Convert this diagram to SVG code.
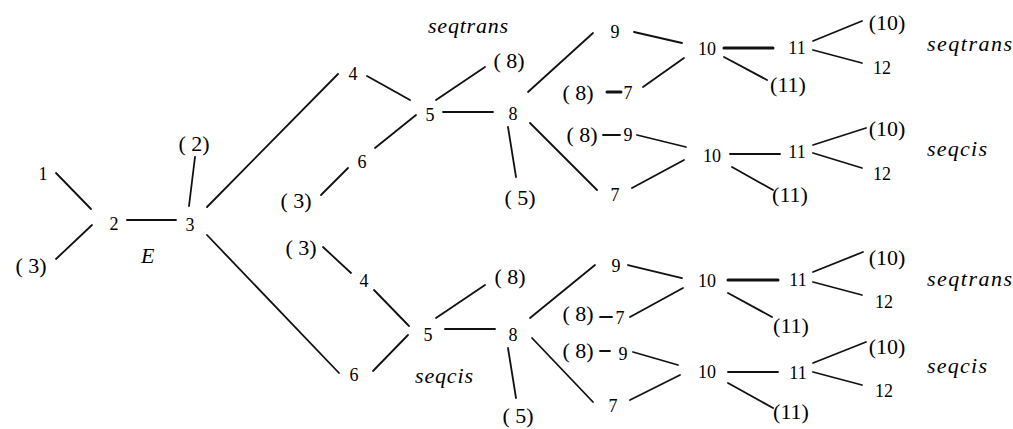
<svg xmlns="http://www.w3.org/2000/svg" width="1013" height="429" viewBox="0 0 1013 429">
<style>
.n{font-family:"Liberation Serif","Times New Roman",serif;font-size:18px;fill:#000;text-anchor:middle}
.p{font-family:"Liberation Serif","Times New Roman",serif;font-size:22px;fill:#000;text-anchor:middle}
.i{font-family:"Liberation Serif","Times New Roman",serif;font-size:22px;font-style:italic;fill:#000}
.c line{stroke:#111;stroke-width:1.8;stroke-linecap:round}
.c line.t{stroke-width:3}
</style>
<rect width="1013" height="429" fill="#fff"/>
<g id="connectors" class="c">
<line x1="56" y1="173" x2="91" y2="209"/>
<line x1="56" y1="259" x2="92" y2="225"/>
<line x1="127" y1="220" x2="176" y2="220"/>
<line x1="195" y1="157" x2="189" y2="206"/>
<line x1="207" y1="207" x2="338" y2="74"/>
<line x1="207" y1="235" x2="339" y2="373"/>
<line x1="367" y1="76" x2="410" y2="100"/>
<line x1="436" y1="100" x2="485" y2="67"/>
<line x1="443" y1="112" x2="493" y2="112"/>
<line x1="416" y1="115" x2="375" y2="148"/>
<line x1="348" y1="168" x2="321" y2="195"/>
<line x1="508" y1="127" x2="516" y2="177"/>
<line x1="528" y1="92" x2="593" y2="33"/>
<line x1="530" y1="123" x2="597" y2="190"/>
<line x1="634" y1="32" x2="682" y2="43"/>
<line class="t" x1="724" y1="48" x2="773" y2="48"/>
<line x1="724" y1="57" x2="767" y2="80"/>
<line x1="643" y1="87" x2="684" y2="58"/>
<line class="t" x1="607" y1="92" x2="621" y2="92"/>
<line x1="603" y1="135" x2="620" y2="135"/>
<line x1="637" y1="135" x2="686" y2="147"/>
<line x1="632" y1="188" x2="684" y2="160"/>
<line x1="730" y1="154" x2="780" y2="154"/>
<line x1="732" y1="167" x2="773" y2="190"/>
<line x1="813" y1="41" x2="862" y2="21"/>
<line x1="813" y1="50" x2="862" y2="63"/>
<line x1="813" y1="145" x2="866" y2="128"/>
<line x1="813" y1="153" x2="862" y2="168"/>
<line x1="323" y1="247" x2="351" y2="273"/>
<line x1="374" y1="290" x2="409" y2="326"/>
<line x1="408" y1="335" x2="373" y2="371"/>
<line x1="436" y1="318" x2="485" y2="285"/>
<line x1="445" y1="329" x2="495" y2="329"/>
<line x1="508" y1="348" x2="516" y2="398"/>
<line x1="530" y1="318" x2="595" y2="265"/>
<line x1="532" y1="338" x2="593" y2="402"/>
<line x1="628" y1="265" x2="682" y2="278"/>
<line class="t" x1="728" y1="280" x2="778" y2="280"/>
<line x1="728" y1="293" x2="772" y2="317"/>
<line x1="600" y1="317" x2="612" y2="317"/>
<line x1="630" y1="317" x2="683" y2="288"/>
<line x1="600" y1="351" x2="610" y2="351"/>
<line x1="633" y1="352" x2="678" y2="365"/>
<line x1="630" y1="400" x2="680" y2="375"/>
<line x1="728" y1="372" x2="778" y2="372"/>
<line x1="728" y1="383" x2="773" y2="408"/>
<line x1="813" y1="272" x2="863" y2="252"/>
<line x1="813" y1="282" x2="862" y2="295"/>
<line x1="813" y1="363" x2="866" y2="342"/>
<line x1="813" y1="372" x2="862" y2="385"/>
</g>
<g id="n1"><text class="n" x="43" y="180">1</text></g>
<g id="n2"><text class="n" x="114" y="230">2</text></g>
<g id="n3"><text class="n" x="190" y="231">3</text></g>
<g id="n2p"><text class="p" x="194" y="151" xml:space="preserve">( 2)</text></g>
<g id="n3p"><text class="p" x="31" y="273" xml:space="preserve">( 3)</text></g>
<g id="lblE"><text class="i" x="141" y="263">E</text></g>

<g id="u4"><text class="n" x="353" y="80">4</text></g>
<g id="u5"><text class="n" x="430" y="121">5</text></g>
<g id="u6"><text class="n" x="362" y="168">6</text></g>
<g id="u3p"><text class="p" x="296" y="208" xml:space="preserve">( 3)</text></g>
<g id="u8p"><text class="p" x="509" y="68" xml:space="preserve">( 8)</text></g>
<g id="u8"><text class="n" x="513" y="120">8</text></g>
<g id="u5p"><text class="p" x="520" y="205" xml:space="preserve">( 5)</text></g>
<g id="lblSeqtrans1"><text class="i" x="428" y="33" font-size="21" textLength="80" lengthAdjust="spacing">seqtrans</text></g>

<g id="ua9"><text class="n" x="615" y="38">9</text></g>
<g id="ua10"><text class="n" x="707" y="55">10</text></g>
<g id="ua8p"><text class="p" x="578" y="100" xml:space="preserve">( 8)</text></g>
<g id="ua7"><text class="n" x="628" y="99">7</text></g>
<g id="ua11"><text class="n" x="797" y="54">11</text></g>
<g id="ua10p"><text class="p" x="887" y="30">(10)</text></g>
<g id="ua12"><text class="n" x="882" y="74">12</text></g>
<g id="ua11p"><text class="p" x="788" y="92">(11)</text></g>
<g id="lblSeqtrans2"><text class="i" x="927" y="51" textLength="85" lengthAdjust="spacing">seqtrans</text></g>

<g id="ub8p"><text class="p" x="582" y="142" xml:space="preserve">( 8)</text></g>
<g id="ub9"><text class="n" x="628" y="141">9</text></g>
<g id="ub10"><text class="n" x="712" y="162">10</text></g>
<g id="ub7"><text class="n" x="615" y="201">7</text></g>
<g id="ub11"><text class="n" x="797" y="158">11</text></g>
<g id="ub10p"><text class="p" x="887" y="136">(10)</text></g>
<g id="ub12"><text class="n" x="882" y="180">12</text></g>
<g id="ub11p"><text class="p" x="790" y="202">(11)</text></g>
<g id="lblSeqcis1"><text class="i" x="927" y="156" textLength="60" lengthAdjust="spacing">seqcis</text></g>

<g id="l3p"><text class="p" x="301" y="255" xml:space="preserve">( 3)</text></g>
<g id="l4"><text class="n" x="364" y="287">4</text></g>
<g id="l5"><text class="n" x="428" y="341">5</text></g>
<g id="l6"><text class="n" x="354" y="381">6</text></g>
<g id="l8p"><text class="p" x="510" y="284" xml:space="preserve">( 8)</text></g>
<g id="l8"><text class="n" x="513" y="341">8</text></g>
<g id="l5p"><text class="p" x="518" y="423" xml:space="preserve">( 5)</text></g>
<g id="lblSeqcis2"><text class="i" x="415" y="383" textLength="58" lengthAdjust="spacing">seqcis</text></g>

<g id="la9"><text class="n" x="616" y="272">9</text></g>
<g id="la10"><text class="n" x="707" y="287">10</text></g>
<g id="la8p"><text class="p" x="578" y="321" xml:space="preserve">( 8)</text></g>
<g id="la7"><text class="n" x="620" y="324">7</text></g>
<g id="la11"><text class="n" x="798" y="286">11</text></g>
<g id="la10p"><text class="p" x="887" y="265">(10)</text></g>
<g id="la12"><text class="n" x="884" y="308">12</text></g>
<g id="la11p"><text class="p" x="791" y="333">(11)</text></g>
<g id="lblSeqtrans3"><text class="i" x="927" y="286" textLength="85" lengthAdjust="spacing">seqtrans</text></g>

<g id="lb8p"><text class="p" x="578" y="358" xml:space="preserve">( 8)</text></g>
<g id="lb9"><text class="n" x="623" y="360">9</text></g>
<g id="lb10"><text class="n" x="707" y="378">10</text></g>
<g id="lb7"><text class="n" x="613" y="412">7</text></g>
<g id="lb11"><text class="n" x="798" y="379">11</text></g>
<g id="lb10p"><text class="p" x="887" y="354">(10)</text></g>
<g id="lb12"><text class="n" x="884" y="397">12</text></g>
<g id="lb11p"><text class="p" x="791" y="419">(11)</text></g>
<g id="lblSeqcis3"><text class="i" x="927" y="373" textLength="60" lengthAdjust="spacing">seqcis</text></g>
</svg>
